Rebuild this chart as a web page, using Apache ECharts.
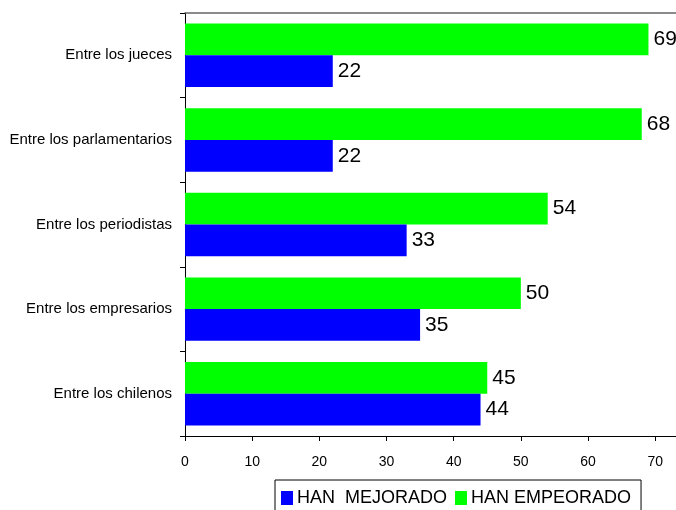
<!DOCTYPE html>
<html>
<head>
<meta charset="utf-8">
<script src="https://cdn.jsdelivr.net/npm/echarts@6/dist/echarts.min.js"></script>
<style>
html,body{margin:0;padding:0;background:#fff;}
#main{width:676px;height:510px;}
</style>
</head>
<body>
<div id="main"></div>
<script>
var categorias = ['Entre los jueces', 'Entre los parlamentarios', 'Entre los periodistas', 'Entre los empresarios', 'Entre los chilenos'];
var mejorado = [22, 22, 33, 35, 44];
var empeorado = [69, 68, 54, 50, 45];
var ticksX = [0, 10, 20, 30, 40, 50, 60, 70];

var myChart = echarts.init(document.getElementById('main'));

var etiqueta = {
	show: true,
	position: 'right',
	distance: 5,
	color: '#000',
	fontSize: 21,
	fontFamily: 'Liberation Sans'
};

var option = {
	animation: false,
	textStyle: {fontFamily: 'Liberation Sans'},
	grid: {left: 185, right: 0, top: 13, bottom: 74},
	legend: {
		data: ['HAN  MEJORADO', 'HAN EMPEORADO'],
		left: 275,
		top: 480,
		itemWidth: 12,
		itemHeight: 14,
		itemGap: 8,
		icon: 'rect',
		padding: [9, 10, 20, 6],
		borderColor: '#000',
		borderWidth: 1,
		borderRadius: 0,
		textStyle: {fontSize: 18, color: '#000', padding: [0, 0, 0, -1]}
	},
	xAxis: [{
		type: 'value',
		min: 0,
		max: 73.1,
		interval: 10,
		splitLine: {show: false},
		axisLine: {show: true, lineStyle: {color: '#000'}},
		axisTick: {show: true, length: 5, customValues: ticksX, lineStyle: {color: '#000'}},
		axisLabel: {customValues: ticksX, color: '#000', fontSize: 14, margin: 19}
	}, {
		type: 'value',
		position: 'top',
		min: 0,
		max: 73.1,
		splitLine: {show: false},
		axisLine: {show: true, lineStyle: {color: '#666', width: 1.5}},
		axisTick: {show: false},
		axisLabel: {show: false}
	}],
	yAxis: {
		type: 'category',
		inverse: true,
		data: categorias,
		axisLine: {show: true, lineStyle: {color: '#000'}},
		axisTick: {show: true, length: 5, lineStyle: {color: '#000'}},
		axisLabel: {color: '#000', fontSize: 15, margin: 13}
	},
	series: [{
		name: 'HAN EMPEORADO',
		type: 'bar',
		barCategoryGap: '25%',
		barGap: '0%',
		itemStyle: {color: '#00ff00'},
		label: etiqueta,
		data: empeorado
	}, {
		name: 'HAN  MEJORADO',
		type: 'bar',
		barCategoryGap: '25%',
		barGap: '0%',
		itemStyle: {color: '#0000ff'},
		label: etiqueta,
		data: mejorado
	}]
};

myChart.setOption(option);
</script>
</body>
</html>
